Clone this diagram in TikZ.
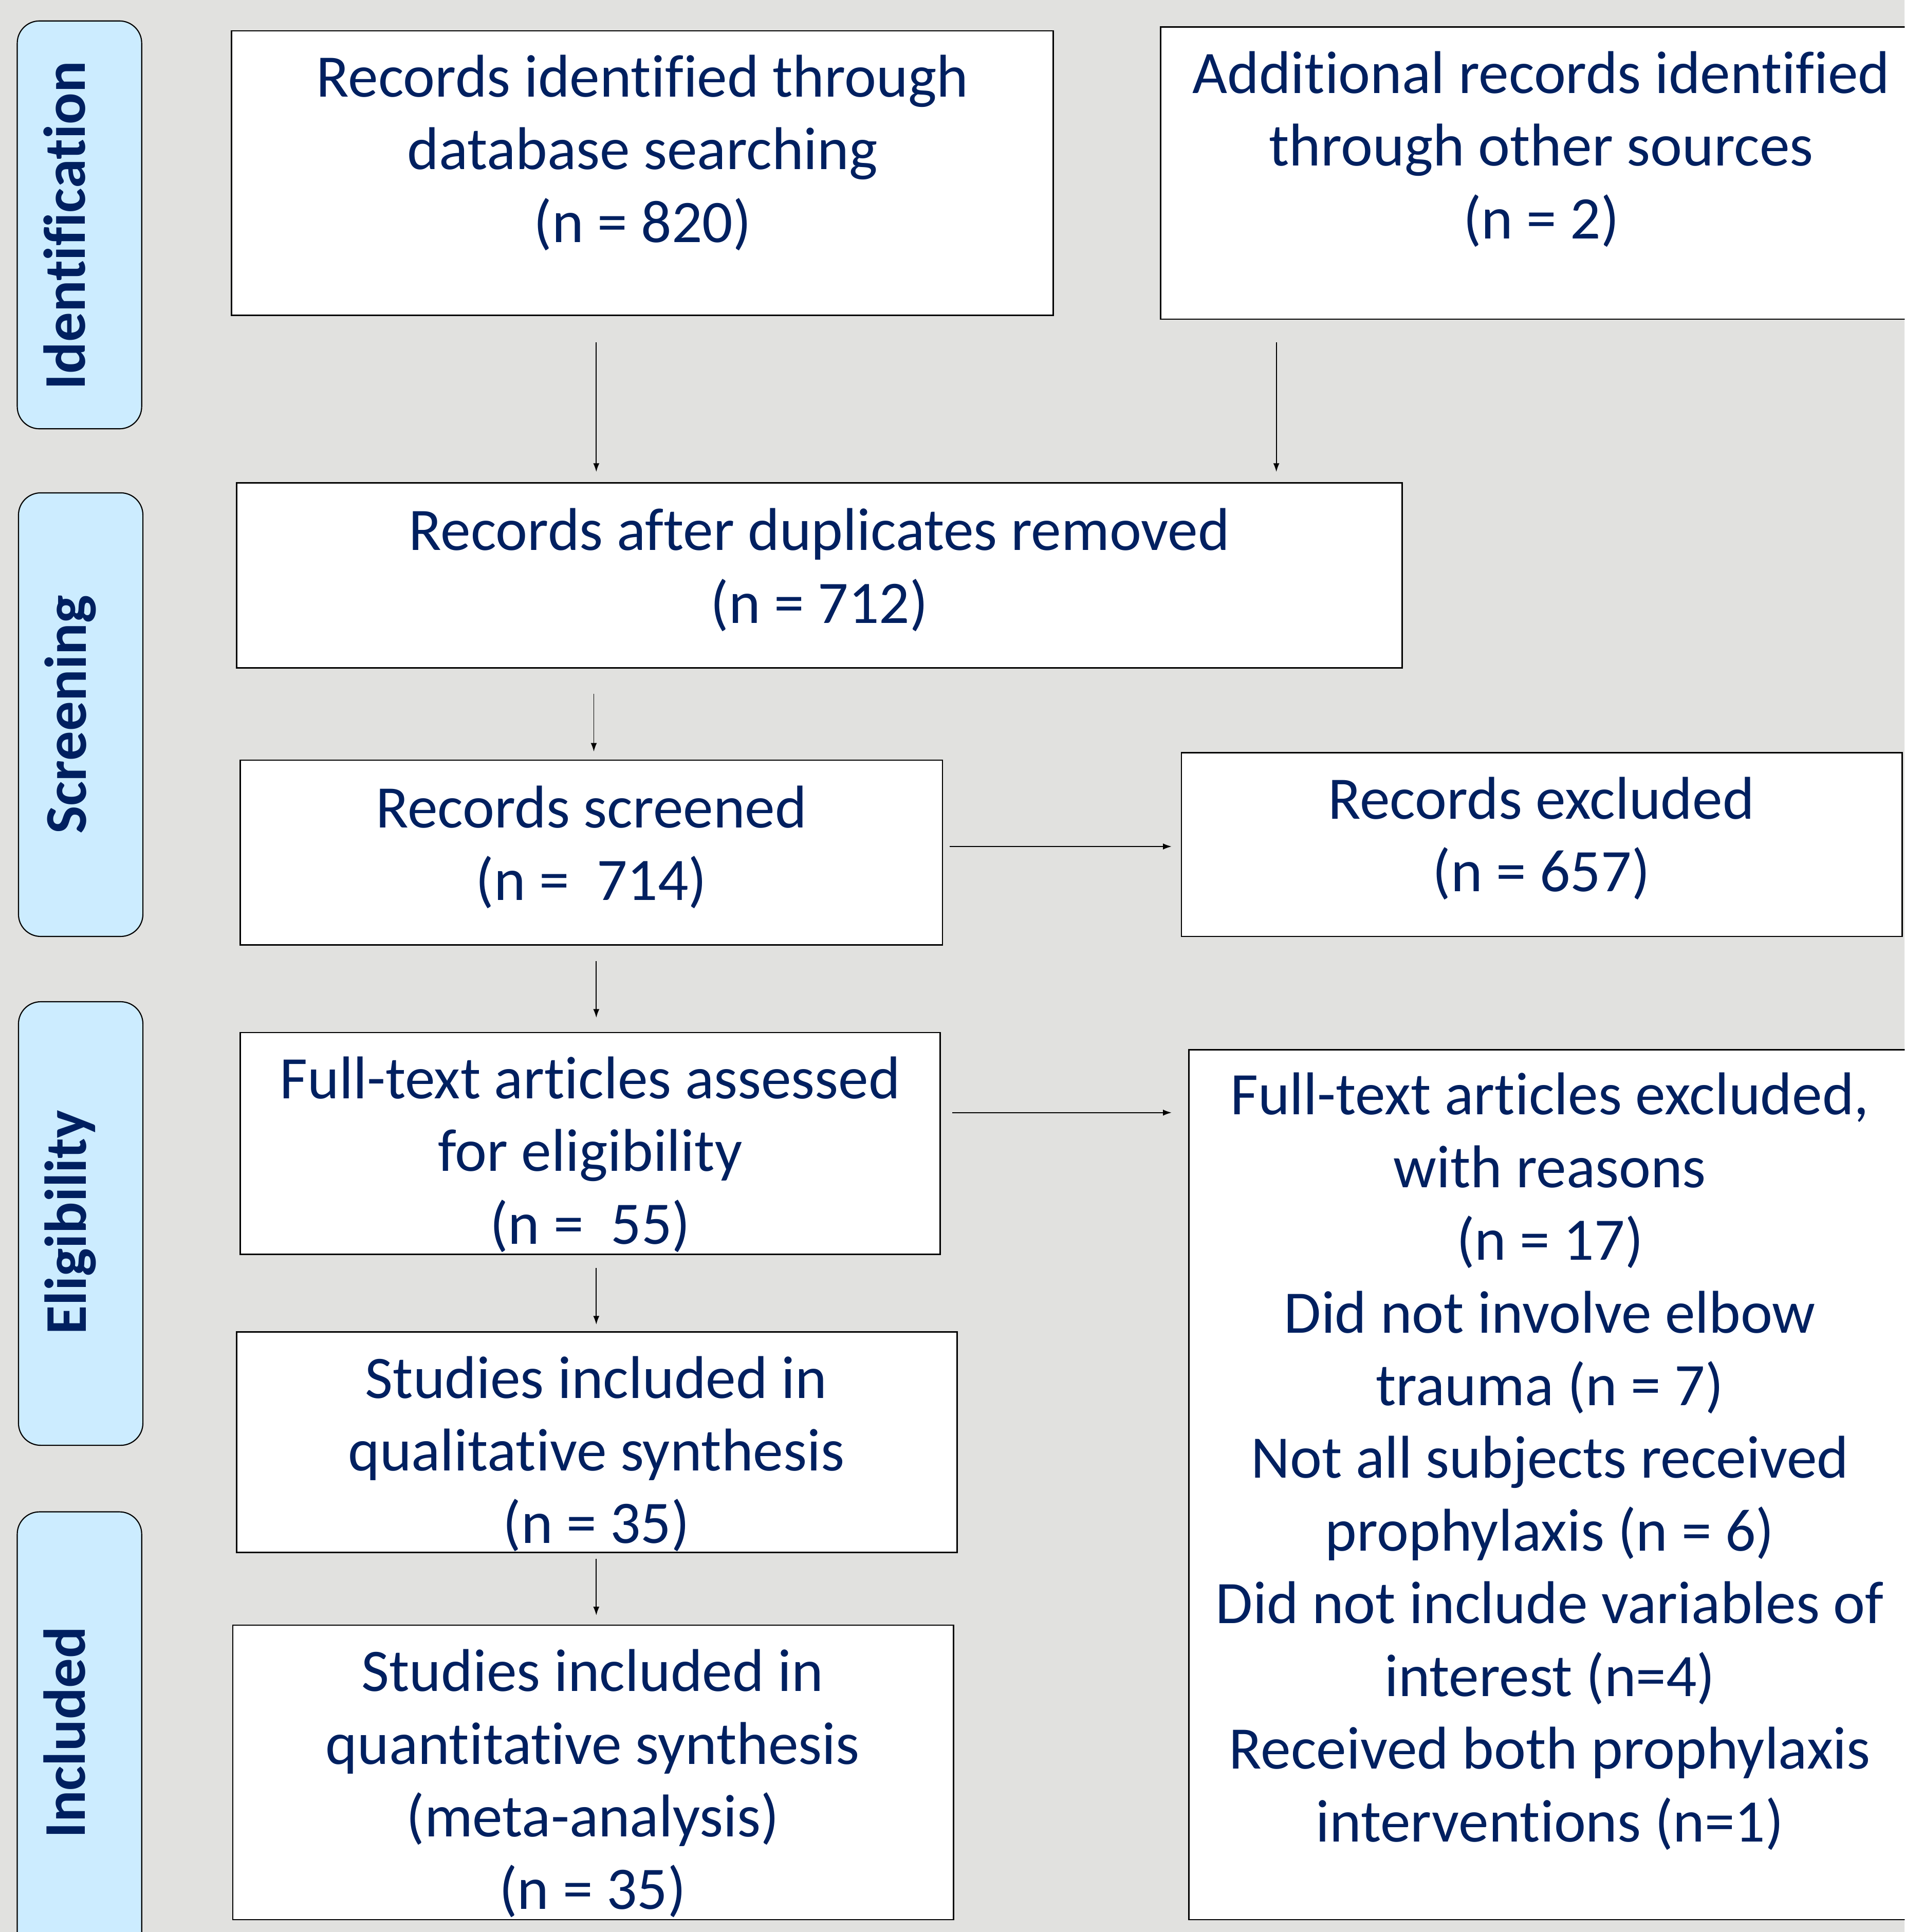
\documentclass[tikz,border=0pt]{standalone}
\usepackage{fontspec}
\setmainfont{Carlito}[Ligatures={NoCommon,NoRequired,NoContextual}]
\usetikzlibrary{arrows.meta}
\definecolor{bgc}{RGB}{225,225,223}
\definecolor{navy}{RGB}{0,32,96}
\definecolor{sidefill}{RGB}{204,236,255}
\tikzset{
  box/.style={draw=black, line width=1.1pt, fill=white, inner sep=0pt, outer sep=0pt},
  side/.style={draw=black, line width=0.9pt, fill=sidefill, rounded corners=18pt, inner sep=0pt, outer sep=0pt, minimum width=101pt},
  txt/.style={text=navy, align=center, inner sep=0pt, font=\fontsize{49}{59}\selectfont},
  sidetxt/.style={text=navy, inner sep=0pt, rotate=90, anchor=base, font=\fontsize{48}{58}\selectfont\bfseries},
  arr/.style={draw=black, line width=0.8pt, -{Latex[length=7pt,width=5pt]}}
}
\begin{document}
\begin{tikzpicture}[x=1pt,y=-1pt]
\useasboundingbox (0,0) rectangle (1546,1568);
\fill[bgc] (0,0) rectangle (1546,1568);
\clip (0,0) rectangle (1546,1568);

% side labels
\node[side, minimum height=331pt] (S1) at (64.5,182.5) {};
\node[side, minimum height=360pt] (S2) at (65.5,580) {};
\node[side, minimum height=360pt] (S3) at (65.5,993) {};
\node[side, minimum height=360pt] (S4) at (64.5,1407) {};
\node[sidetxt] (S1t) at (69,183) {Identification};
\node[sidetxt] (S2t) at (70,580) {Screening};
\node[sidetxt] (S3t) at (70,992) {Eligibility};
\node[sidetxt] (S4t) at (69,1406) {Included};

% boxes
\node[box, minimum width=667pt, minimum height=231pt] (A) at (521.5,140.5) {};
\node[box, minimum width=618pt, minimum height=237pt] (B) at (1251,140.5) {};
\node[box, minimum width=946pt, minimum height=150pt] (C) at (665,467) {};
\node[box, minimum width=570pt, minimum height=150pt] (D) at (480,692) {};
\node[box, minimum width=585pt, minimum height=149pt] (E) at (1251.5,685.5) {};
\node[box, minimum width=568pt, minimum height=180pt] (F) at (479,928) {};
\node[box, minimum width=590pt, minimum height=706pt] (G) at (1260,1205) {};
\node[box, minimum width=585pt, minimum height=179pt] (H) at (484.5,1170.5) {};
\node[box, minimum width=585pt, minimum height=239pt] (I) at (481.5,1438.5) {};

% texts
\node[txt] (At) at (521.5,124) {Records identified through\\database searching\\(n = 820)};
\node[txt] (Bt) at (1251,121) {Additional records identified\\through other sources\\(n = 2)};
\node[txt] (Ct) at (665,462.5) {Records after duplicates removed\\(n = 712)};
\node[txt] (Dt) at (480,687.5) {Records screened\\(n =\ \ 714)};
\node[txt] (Et) at (1251,680.5) {Records excluded\\(n = 657)};
\node[txt] (Ft) at (479,937) {Full-text articles assessed\\for eligibility\\(n =\ \ 55)};
\node[txt] (Gt) at (1258,1186) {Full-text articles excluded,\\with reasons\\(n = 17)\\Did not involve elbow\\trauma (n = 7)\\Not all subjects received\\prophylaxis (n = 6)\\Did not include variables of\\interest (n=4)\\Received both prophylaxis\\interventions (n=1)};
\node[txt] (Ht) at (484,1180) {Studies included in\\qualitative synthesis\\(n = 35)};
\node[txt] (It) at (481,1447.5) {Studies included in\\quantitative synthesis\\(meta-analysis)\\(n = 35)};

% connector guides
\coordinate (xL) at (484,0);
\coordinate (xR) at (1036,0);
\coordinate (xC) at (482,0);
\coordinate (yDE) at (0,687);
\coordinate (yFG) at (0,903);

% connectors
\draw[arr, shorten <=22pt, shorten >=9pt] (A.south -| xL) -- (C.north -| xL);
\draw[arr, shorten <=19pt, shorten >=9pt] (B.south -| xR) -- (C.north -| xR);
\draw[arr, shorten <=21pt, shorten >=7pt] (C.south -| xC) -- (D.north -| xC);
\draw[arr, shorten <=6pt, shorten >=8pt] (D.east |- yDE) -- (E.west |- yDE);
\draw[arr, shorten <=13pt, shorten >=12pt] (D.south -| xL) -- (F.north -| xL);
\draw[arr, shorten <=10pt, shorten >=14pt] (F.east |- yFG) -- (G.west |- yFG);
\draw[arr, shorten <=11pt, shorten >=6pt] (F.south -| xL) -- (H.north -| xL);
\draw[arr, shorten <=5pt, shorten >=8pt] (H.south -| xL) -- (I.north -| xL);
\end{tikzpicture}
\end{document}
